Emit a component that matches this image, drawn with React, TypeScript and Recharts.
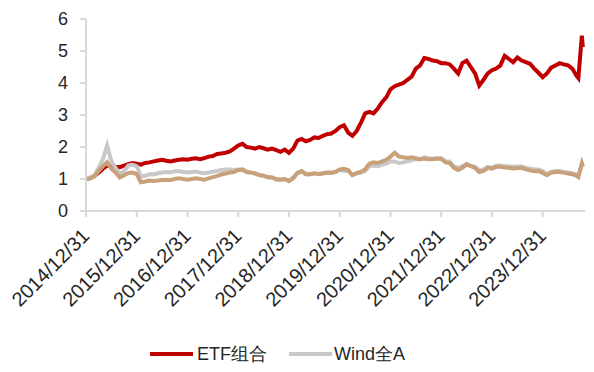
import React from 'react';
import { LineChart, Line, XAxis, YAxis, Legend } from 'recharts';

// Year-end tick labels
const yearTicks = [
  '2014/12/31', '2015/12/31', '2016/12/31', '2017/12/31', '2018/12/31',
  '2019/12/31', '2020/12/31', '2021/12/31', '2022/12/31', '2023/12/31',
];

// Month-end categories 2014/12 .. 2024/08, then a few late-2024 dates
function monthEnds(): string[] {
  const out: string[] = [];
  for (let y = 2014; y <= 2024; y++) {
    for (let m = 1; m <= 12; m++) {
      if (y === 2014 && m < 12) continue;
      if (y === 2024 && m > 8) continue;
      const d = new Date(y, m, 0).getDate();
      out.push(`${y}/${String(m).padStart(2, '0')}/${d}`);
    }
  }
  return out;
}
const extraDates = ['2024/09/13', '2024/10/08', '2024/10/15'];
const dates = [...monthEnds(), ...extraDates];

// ETF组合
const etf = [
  1.0,
  1.03, 1.1, 1.2, 1.32, 1.42, 1.4, 1.38, 1.37, 1.42, 1.46, 1.5, 1.48,
  1.45, 1.5, 1.52, 1.55, 1.58, 1.6, 1.57, 1.55, 1.58, 1.6, 1.62, 1.6,
  1.63, 1.65, 1.62, 1.65, 1.7, 1.72, 1.78, 1.8, 1.82, 1.86, 1.95, 2.05,
  2.1, 2.0, 1.98, 1.95, 2.0, 1.96, 1.92, 1.95, 1.9, 1.85, 1.92, 1.82,
  1.95, 2.2, 2.25, 2.18, 2.22, 2.3, 2.28, 2.35, 2.4, 2.42, 2.5, 2.62,
  2.68, 2.45, 2.35, 2.5, 2.75, 3.05, 3.1, 3.05, 3.2, 3.4, 3.55, 3.8,
  3.9, 3.95, 4.0, 4.1, 4.2, 4.45, 4.55, 4.78, 4.75, 4.7, 4.68, 4.62,
  4.62, 4.58, 4.45, 4.3, 4.62, 4.7, 4.5, 4.3, 3.92, 4.1, 4.3, 4.4,
  4.45, 4.55, 4.85, 4.75, 4.65, 4.8, 4.7, 4.65, 4.6, 4.45, 4.32, 4.18,
  4.3, 4.48, 4.55, 4.62, 4.58, 4.55, 4.45, 4.22,
  4.15, 5.48, 5.12,
];

// Wind全A
const wind = [
  1.0,
  1.05, 1.12, 1.35, 1.62, 2.05, 1.55, 1.35, 1.15, 1.25, 1.42, 1.45, 1.4,
  1.08, 1.1, 1.15, 1.14, 1.18, 1.2, 1.22, 1.21, 1.24, 1.25, 1.22, 1.2,
  1.22, 1.23, 1.2, 1.18, 1.2, 1.23, 1.25, 1.28, 1.3, 1.3, 1.28, 1.3,
  1.28, 1.22, 1.2, 1.18, 1.12, 1.1, 1.05, 1.05, 0.98, 0.98, 1.0, 0.95,
  1.05, 1.2, 1.25, 1.15, 1.15, 1.18, 1.15, 1.18, 1.2, 1.2, 1.22, 1.28,
  1.25, 1.25, 1.12, 1.18, 1.2, 1.25, 1.4, 1.42, 1.4, 1.45, 1.48, 1.55,
  1.55, 1.5, 1.52, 1.55, 1.58, 1.62, 1.62, 1.68, 1.65, 1.63, 1.65, 1.65,
  1.55, 1.55, 1.4, 1.35, 1.4, 1.48, 1.42, 1.38, 1.28, 1.3, 1.38, 1.35,
  1.42, 1.42, 1.4, 1.4, 1.38, 1.38, 1.4, 1.35, 1.33, 1.3, 1.3, 1.25,
  1.15, 1.22, 1.25, 1.25, 1.22, 1.2, 1.18, 1.14,
  1.12, 1.48, 1.4,
];

// Benchmark (unlabelled tan line)
const bench = [
  1.0,
  1.02, 1.08, 1.25, 1.4, 1.52, 1.32, 1.2, 1.05, 1.12, 1.18, 1.2, 1.15,
  0.9, 0.92, 0.95, 0.94, 0.95, 0.97, 0.98, 0.97, 1.0, 1.02, 1.0, 0.98,
  1.0, 1.02, 1.0, 0.98, 1.02, 1.06, 1.1, 1.14, 1.17, 1.2, 1.22, 1.28,
  1.3, 1.22, 1.2, 1.17, 1.12, 1.1, 1.06, 1.05, 1.0, 0.98, 1.0, 0.93,
  1.02, 1.18, 1.24, 1.15, 1.15, 1.18, 1.16, 1.17, 1.2, 1.19, 1.22, 1.3,
  1.32, 1.28, 1.12, 1.18, 1.22, 1.3, 1.48, 1.52, 1.5, 1.55, 1.6, 1.7,
  1.82, 1.7, 1.68, 1.66, 1.68, 1.65, 1.62, 1.64, 1.62, 1.62, 1.64, 1.63,
  1.52, 1.5, 1.35, 1.28, 1.35, 1.45, 1.4, 1.35, 1.22, 1.25, 1.35, 1.32,
  1.38, 1.38, 1.36, 1.35, 1.33, 1.34, 1.35, 1.3, 1.27, 1.24, 1.25, 1.19,
  1.12, 1.2, 1.22, 1.22, 1.2, 1.17, 1.15, 1.1,
  1.06, 1.48, 1.38,
];

function toT(d: string): number {
  const [y, m, dd] = d.split('/').map(Number);
  const dim = new Date(y, m, 0).getDate();
  return (y - 2014) * 12 + (m - 12) + dd / dim - 1;
}

const data = dates.map((d, i) => ({
  t: toT(d),
  date: d,
  etf: etf[i],
  wind: wind[i],
  bench: bench[i],
}));

const tickVals = yearTicks.map(toT);
const labelFor = (v: number) => {
  const i = tickVals.findIndex((t) => Math.abs(t - v) < 0.01);
  return i >= 0 ? yearTicks[i] : '';
};

const FONT = '"Liberation Sans", Arial, sans-serif';
const AXIS = '#d9d9d9';
const TEXT = '#262626';

const legendItems = [
  { name: 'ETF组合', color: '#C00000', lineX: 150, textX: 197 },
  { name: 'Wind全A', color: '#C8C8C8', lineX: 289, textX: 334 },
];

function LegendContent() {
  return (
    <div style={{ position: 'relative', width: 594, height: 24, fontFamily: FONT }}>
      {legendItems.map((it) => (
        <React.Fragment key={it.name}>
          <div
            style={{
              position: 'absolute',
              left: it.lineX,
              top: 10,
              width: 43,
              height: 4,
              background: it.color,
            }}
          />
          <div
            style={{
              position: 'absolute',
              left: it.textX,
              top: 0,
              fontSize: 18,
              lineHeight: '24px',
              color: TEXT,
              whiteSpace: 'nowrap',
            }}
          >
            {it.name}
          </div>
        </React.Fragment>
      ))}
    </div>
  );
}

function XTick(props: any) {
  const { x, y, payload } = props;
  return (
    <g transform={`translate(${x - 8},${y + 11})`}>
      <text
        x={0}
        y={0}
        dx={4}
        dy={14}
        textAnchor="end"
        transform="rotate(-45)"
        fontSize={20}
        fill={TEXT}
        fontFamily={FONT}
      >
        {labelFor(payload.value)}
      </text>
    </g>
  );
}

export default function App() {
  return (
    <div style={{ position: 'absolute', left: 0, top: 0, fontFamily: FONT }}>
      <LineChart
        width={594}
        height={372}
        data={data}
        margin={{ top: 19, right: 9, left: 0, bottom: 0 }}
      >
        <XAxis
          type="number"
          dataKey="t"
          domain={[0, 118]}
          ticks={tickVals}
          interval={0}
          height={161}
          tickSize={6}
          tickMargin={2}
          axisLine={{ stroke: AXIS, strokeWidth: 2 }}
          tickLine={{ stroke: AXIS, strokeWidth: 2 }}
          tick={<XTick />}
        />
        <YAxis
          type="number"
          domain={[0, 6]}
          ticks={[0, 1, 2, 3, 4, 5, 6]}
          interval={0}
          width={86}
          tickSize={6}
          tickMargin={12}
          axisLine={{ stroke: AXIS, strokeWidth: 2 }}
          tickLine={{ stroke: AXIS, strokeWidth: 2 }}
          tick={{ fontSize: 18, fill: TEXT, fontFamily: FONT }}
        />
        <Legend
          layout="horizontal"
          verticalAlign="middle"
          wrapperStyle={{ top: 342, left: 0, width: 594, height: 24 }}
          content={() => <LegendContent />}
        />
        <Line
          type="linear"
          dataKey="etf"
          name="ETF组合"
          stroke="#C00000"
          strokeWidth={4}
          dot={false}
          isAnimationActive={false}
        />
        <Line
          type="linear"
          dataKey="wind"
          name="Wind全A"
          stroke="#C8C8C8"
          strokeWidth={4}
          dot={false}
          isAnimationActive={false}
        />
        <Line
          type="linear"
          dataKey="bench"
          name="基准"
          legendType="none"
          stroke="#C8A07A"
          strokeWidth={4}
          dot={false}
          isAnimationActive={false}
        />
      </LineChart>
    </div>
  );
}
